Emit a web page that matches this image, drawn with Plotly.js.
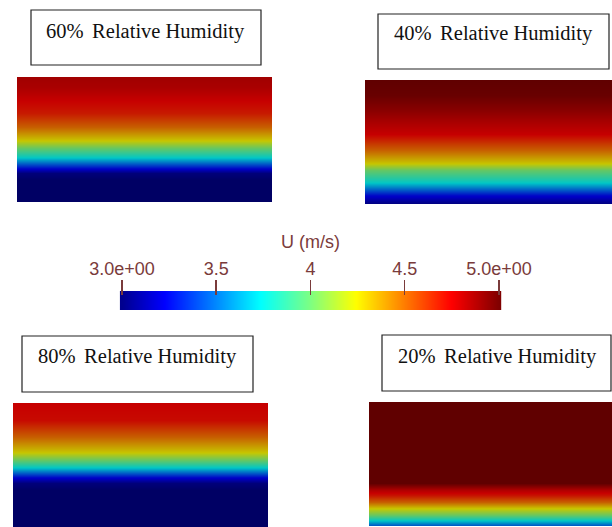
<!DOCTYPE html>
<html><head><meta charset="utf-8">
<script src="https://cdn.plot.ly/plotly-3.0.1.min.js"></script>
<style>html,body{margin:0;padding:0;background:#fff}</style>
</head><body><div id="chart" style="width:612px;height:527px"></div>
<script>
// ---- data ----
const panelLabels = ['60%\u2006 Relative Humidity', '40%\u2006 Relative Humidity', '80%\u2006 Relative Humidity', '20%\u2006 Relative Humidity'];
// normalized height (0 = bottom, 1 = top) and velocity U (m/s)
const height60 = [0, 0.176, 0.232, 0.272, 0.36, 0.432, 0.496, 0.6, 0.712, 0.816, 0.92, 1];
const u60      = [3.0, 3.0, 3.05, 3.25, 3.75, 4.0, 4.25, 4.5, 4.68, 4.75, 4.82, 4.84];
const height40 = [0, 0.073, 0.177, 0.274, 0.33, 0.435, 0.565, 0.66, 0.76, 0.88, 1];
const u40      = [3.05, 3.25, 3.75, 4.0, 4.25, 4.5, 4.75, 4.82, 4.9, 4.98, 5.0];
const height80 = [0, 0.298, 0.355, 0.403, 0.484, 0.54, 0.605, 0.726, 0.863, 1];
const u80      = [3.0, 3.0, 3.05, 3.25, 3.75, 4.0, 4.25, 4.5, 4.72, 4.75];
const height20 = [0, 0.048, 0.089, 0.145, 0.194, 0.25, 0.29, 0.347, 1];
const u20      = [3.4, 3.75, 4.0, 4.25, 4.5, 4.7, 4.8, 5.0, 5.0];
const cbTickVals = [3, 3.5, 4, 4.5, 5];
const cbTickText = ['3.0e+00', '3.5', '4', '4.5', '5.0e+00'];
const cbTitle = 'U (m/s)';
const uMin = 3, uMax = 5;

// ---- styling / geometry (pixels) ----
const W = 612, H = 527;
const px = x => x / W, py = y => Math.max(0, Math.min(1, 1 - y / H));
const panels = [
  {h: height60, u: u60, x: [17, 272], y: [77, 202], box: [31, 261, 10, 65], txt: [145.5, 31.5]},
  {h: height40, u: u40, x: [365, 612], y: [80, 204], box: [378, 609, 14, 69], txt: [493, 34]},
  {h: height80, u: u80, x: [13, 268], y: [403, 527], box: [22, 253, 336, 392], txt: [137.5, 356]},
  {h: height20, u: u20, x: [369, 612], y: [402, 526], box: [382, 611, 335, 391], txt: [497, 356]}
];
const jetShaded = [[0,'rgb(0,0,100)'],[0.111,'rgb(0,0,199)'],[0.365,'rgb(0,199,199)'],[0.5,'rgb(100,199,100)'],[0.619,'rgb(199,199,0)'],[0.873,'rgb(199,0,0)'],[1,'rgb(96,0,0)']];
const jet = [[0,'rgb(0,0,143)'],[0.111,'rgb(0,0,255)'],[0.365,'rgb(0,255,255)'],[0.5,'rgb(128,255,128)'],[0.619,'rgb(255,255,0)'],[0.873,'rgb(255,0,0)'],[1,'rgb(128,0,0)']];
const cbColor = '#7a3b3b';
const cbPad = 0.012; // tiny range padding so end ticks are not clipped
const cbLeft = 122, cbRight = 499, cbPxPerUnit = (cbRight - cbLeft) / (uMax - uMin);

const traces = [], layout = {
  width: W, height: H, margin: {l:0, r:0, t:0, b:0},
  paper_bgcolor: '#fff', plot_bgcolor: 'rgba(0,0,0,0)', showlegend: false,
  shapes: [], annotations: []
};
panels.forEach((p, i) => {
  const n = i + 1, xa = 'xaxis' + (n === 1 ? '' : n), ya = 'yaxis' + (n === 1 ? '' : n);
  traces.push({
    type: 'heatmap', x: [0, 1], y: p.h, z: p.u.map(v => [v, v]),
    zmin: uMin, zmax: uMax, colorscale: jetShaded, showscale: false, zsmooth: 'best',
    xaxis: 'x' + (n === 1 ? '' : n), yaxis: 'y' + (n === 1 ? '' : n), hoverinfo: 'skip'
  });
  layout[xa] = {domain: [px(p.x[0]), px(p.x[1])], range: [0, 1], visible: false, fixedrange: true};
  layout[ya] = {domain: [py(p.y[1]), py(p.y[0])], range: [0, 1], visible: false, fixedrange: true};
  layout.shapes.push({type: 'rect', xref: 'paper', yref: 'paper',
    x0: px(p.box[0]), x1: px(p.box[1]), y0: py(p.box[3]), y1: py(p.box[2]),
    line: {color: '#222', width: 1.2}, fillcolor: 'rgba(0,0,0,0)'});
  layout.annotations.push({xref: 'paper', yref: 'paper', x: px(p.txt[0]), y: py(p.txt[1]),
    xanchor: 'center', yanchor: 'middle', showarrow: false, text: panelLabels[i],
    font: {family: 'Liberation Serif, Times New Roman, serif', size: 20.5, color: '#111'}});
});
// colorbar drawn as a heatmap on its own axes
traces.push({
  type: 'heatmap', x: cbTickVals, y: [0, 1], z: [cbTickVals, cbTickVals],
  zmin: uMin, zmax: uMax, colorscale: jet, showscale: false, zsmooth: 'best',
  xaxis: 'x5', yaxis: 'y5', hoverinfo: 'skip'
});
layout.xaxis5 = {domain: [px(cbLeft - cbPad * cbPxPerUnit), px(cbRight + cbPad * cbPxPerUnit)],
  range: [uMin - cbPad, uMax + cbPad], side: 'top', anchor: 'y5',
  tickvals: cbTickVals, ticktext: cbTickText, ticks: 'inside', ticklen: 15, tickwidth: 1.5,
  tickcolor: cbColor, showline: false, showgrid: false, zeroline: false, fixedrange: true,
  tickfont: {family: 'Liberation Sans, Arial, sans-serif', size: 18, color: cbColor}};
layout.yaxis5 = {domain: [py(310), py(280)], range: [-0.5, 2.658], visible: false, fixedrange: true, anchor: 'x5'};
layout.annotations.push({xref: 'paper', yref: 'paper', x: px(310), y: py(242),
  xanchor: 'center', yanchor: 'middle', showarrow: false, text: cbTitle,
  font: {family: 'Liberation Sans, Arial, sans-serif', size: 18, color: cbColor}});

Plotly.newPlot('chart', traces, layout, {displayModeBar: false, staticPlot: true});
</script></body></html>
